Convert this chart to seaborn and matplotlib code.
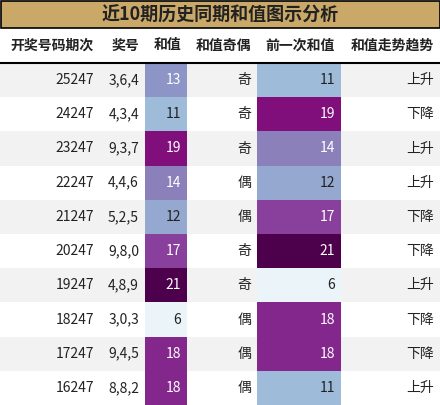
import matplotlib
matplotlib.use("Agg")
import matplotlib.pyplot as plt
import seaborn as sns
from matplotlib.patches import Rectangle
from matplotlib.colors import Normalize

sns.set_style("white")
plt.rcParams['font.family'] = ['Noto Sans CJK SC', 'DejaVu Sans']

title = "近10期历史同期和值图示分析"
headers = ["开奖号码期次", "奖号", "和值", "和值奇偶", "前一次和值", "和值走势趋势"]
periods = ["25247", "24247", "23247", "22247", "21247", "20247", "19247", "18247", "17247", "16247"]
numbers = ["3,6,4", "4,3,4", "9,3,7", "4,4,6", "5,2,5", "9,8,0", "4,8,9", "3,0,3", "9,4,5", "8,8,2"]
sums = [13, 11, 19, 14, 12, 17, 21, 6, 18, 18]
parity = ["奇", "奇", "奇", "偶", "偶", "奇", "奇", "偶", "偶", "偶"]
prev_sums = [11, 19, 14, 12, 17, 21, 6, 18, 18, 11]
trend = ["上升", "下降", "上升", "上升", "下降", "下降", "上升", "下降", "下降", "上升"]

W, H = 440, 405
fig = plt.figure(figsize=(W/100, H/100), dpi=100)
ax = fig.add_axes([0, 0, 1, 1])
ax.set_xlim(0, W); ax.set_ylim(H, 0); ax.axis("off")

cols = [0, 100, 145, 187, 257, 341, 440]
cmap = plt.get_cmap("BuPu")
norm = Normalize(vmin=5, vmax=21)

# title
ax.add_patch(Rectangle((0.5, 0.5), W-1, 27.5, facecolor="#C9A868", edgecolor="black", lw=1.2))
ax.text(W/2, 15, title, ha="center", va="center", fontsize=13, fontweight="bold", color="#222222")

# header
hy0, hy1 = 28, 63
for i, h in enumerate(headers):
    ax.text(cols[i+1]-6, (hy0+hy1)/2, h, ha="right", va="center", fontsize=10, fontweight="bold", color="#222222")
ax.plot([0, W], [hy1, hy1], color="black", lw=1.5)

rh = (H - hy1) / len(periods)
for r in range(len(periods)):
    y0 = hy1 + r*rh
    bg = "#f2f2f2" if r % 2 == 0 else "white"
    ax.add_patch(Rectangle((0, y0), W, rh, facecolor=bg, edgecolor="none", zorder=0))
    for ci, v in ((2, sums[r]), (4, prev_sums[r])):
        c = cmap(norm(v))
        ax.add_patch(Rectangle((cols[ci], y0), cols[ci+1]-cols[ci], rh, facecolor=c, edgecolor="none", zorder=1))
    vals = [periods[r], numbers[r], str(sums[r]), parity[r], str(prev_sums[r]), trend[r]]
    for ci, t in enumerate(vals):
        color = "#222222"
        if ci in (2, 4):
            v = sums[r] if ci == 2 else prev_sums[r]
            color = "white" if norm(v) > 0.45 else "#222222"
        ax.text(cols[ci+1]-6, y0+rh/2, t, ha="right", va="center", fontsize=10, color=color, zorder=2)

fig.savefig("out.png", dpi=100)
